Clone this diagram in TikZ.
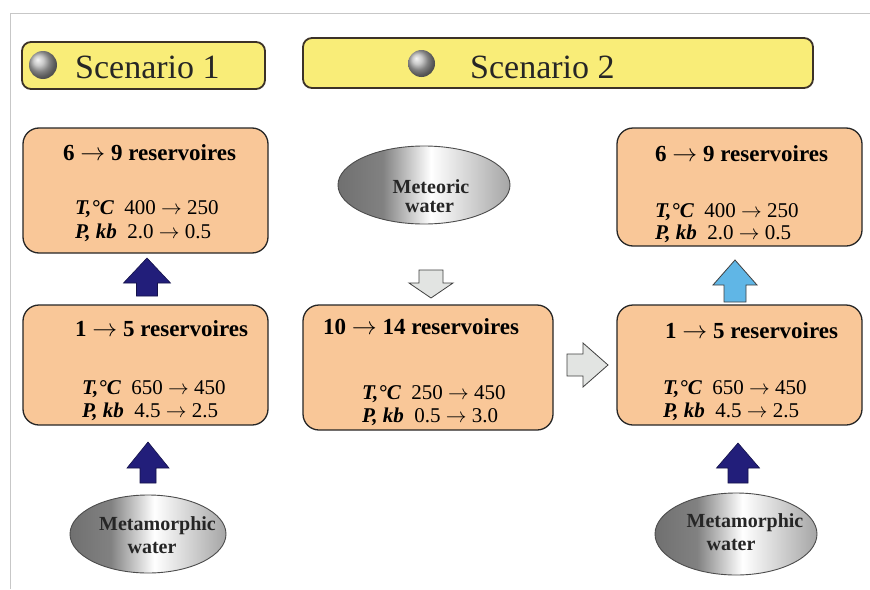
\documentclass[tikz,border=0pt]{standalone}
\usepackage{fontspec}
\setmainfont{Liberation Serif}
\usetikzlibrary{shapes.geometric}
\definecolor{peach}{RGB}{249,199,152}
\definecolor{banner}{RGB}{249,237,120}
\definecolor{bannerline}{RGB}{60,50,40}
\definecolor{navy}{RGB}{34,30,122}
\definecolor{skyb}{RGB}{96,182,230}
\definecolor{arrgray}{RGB}{226,228,226}
\definecolor{metdark}{RGB}{112,112,112}
\definecolor{metright}{RGB}{165,165,165}
\pgfdeclarehorizontalshading{metal}{100bp}{color(0bp)=(metdark); color(25bp)=(metdark); color(38bp)=(metdark!88!white); color(52bp)=(white); color(75bp)=(metright); color(100bp)=(metright)}
\tikzset{
  resbox/.style={draw=black!85, line width=1.3pt, fill=peach, rounded corners=16pt, inner sep=0pt},
  bannerbox/.style={draw=bannerline, line width=1.8pt, fill=banner, rounded corners=9pt},
  sphere/.style={circle, inner sep=0pt, shading=ball, ball color=black!28},
  water/.style={ellipse, draw=black!70, line width=0.9pt, shading=metal, inner sep=0pt},
  ttl/.style={anchor=base west, inner sep=0pt, font=\fontsize{23}{27}\selectfont\bfseries},
  tp/.style={anchor=base west, inner sep=0pt, font=\fontsize{21}{25}\selectfont},
  wtxt/.style={anchor=base, inner sep=0pt, font=\fontsize{20}{24}\selectfont\bfseries, text=black!85},
  scen/.style={anchor=base west, inner sep=0pt, font=\fontsize{34}{40}\selectfont, text=black!85},
  navyarrow/.style={fill=navy, draw=navy!60!black, line width=0.6pt},
  bluearrow/.style={fill=skyb, draw=black!75, line width=0.8pt},
  grayarrow/.style={fill=arrgray, draw=black!75, line width=0.8pt},
}
\newcommand{\Tl}{\textbf{\textit{T,°C}}\ \ }
\newcommand{\Pl}{\textbf{\textit{P, kb}}\ \ }
\newcommand{\ra}{\ensuremath{\rightarrow}}
\begin{document}
\begin{tikzpicture}[x=1pt, y=-1pt]
\useasboundingbox (0,0) rectangle (870,589);
\fill[white] (0,0) rectangle (870,589);
% frame lines
\draw[black!22, line width=1pt] (10,589) -- (10,13) -- (870,13);

% banners
\draw[bannerbox] (22,42) rectangle (265,89);
\node[sphere, minimum size=28pt] (s1) at (43,65) {};
\node[scen] (sc1) at (75,78) {Scenario 1};
\draw[bannerbox] (303,38) rectangle (813,88);
\node[sphere, minimum size=27pt] (s2) at (421.5,63.5) {};
\node[scen] (sc2) at (470,78) {Scenario 2};

% boxes
\node[resbox, minimum width=245pt, minimum height=125pt] (lt) at (145.5,190.5) {};
\node[resbox, minimum width=245pt, minimum height=120pt] (lb) at (145.5,365) {};
\node[resbox, minimum width=250pt, minimum height=125pt] (mb) at (428,367.5) {};
\node[resbox, minimum width=245pt, minimum height=118pt] (rt) at (739.5,187) {};
\node[resbox, minimum width=245pt, minimum height=120pt] (rb) at (739.5,365) {};

% box texts
\node[ttl] (lt1) at (63,160) {6 \ra{} 9 reservoires};
\node[tp] (lt2) at (75,214) {\Tl400 \ra{} 250};
\node[tp] (lt3) at (75,238) {\Pl2.0 \ra{} 0.5};

\node[ttl] (lb1) at (75,336) {1 \ra{} 5 reservoires};
\node[tp] (lb2) at (82,394) {\Tl650 \ra{} 450};
\node[tp] (lb3) at (82,417) {\Pl4.5 \ra{} 2.5};

\node[ttl] (mb1) at (323,334) {10 \ra{} 14 reservoires};
\node[tp] (mb2) at (362,399) {\Tl250 \ra{} 450};
\node[tp] (mb3) at (362,422) {\Pl0.5 \ra{} 3.0};

\node[ttl] (rt1) at (655,161) {6 \ra{} 9 reservoires};
\node[tp] (rt2) at (655,217) {\Tl400 \ra{} 250};
\node[tp] (rt3) at (655,239) {\Pl2.0 \ra{} 0.5};

\node[ttl] (rb1) at (665,338) {1 \ra{} 5 reservoires};
\node[tp] (rb2) at (663,394) {\Tl650 \ra{} 450};
\node[tp] (rb3) at (663,417) {\Pl4.5 \ra{} 2.5};

% water ellipses
\node[water, minimum width=172pt, minimum height=78pt] (met) at (424,185) {};
\node[wtxt] at (431,193) {Meteoric};
\node[wtxt] at (429.5,212) {water};

\node[water, minimum width=156pt, minimum height=78pt] (mml) at (148,534) {};
\node[wtxt] at (157.5,530) {Metamorphic};
\node[wtxt] at (152,553) {water};

\node[water, minimum width=162pt, minimum height=82pt] (mmr) at (736,534) {};
\node[wtxt] at (745,527) {Metamorphic};
\node[wtxt] at (731,550) {water};

% block arrows
% left: lb -> lt
\draw[navyarrow] (136.5,296) -- (136.5,283) -- (123.5,283) -- (147,258) -- (170.5,283) -- (157.5,283) -- (157.5,296) -- cycle;
% left: mml -> lb
\draw[navyarrow] (140,483) -- (140,468) -- (127,468) -- (148,442) -- (169,468) -- (156,468) -- (156,483) -- cycle;
% right: rb -> rt
\draw[bluearrow] (724,302) -- (724,285) -- (713,285) -- (735,260) -- (757,285) -- (746,285) -- (746,302) -- cycle;
% right: mmr -> rb
\draw[navyarrow] (728,483) -- (728,468) -- (716.5,468) -- (738,443) -- (759.5,468) -- (748,468) -- (748,483) -- cycle;
% met -> mb
\draw[grayarrow] (419,270) -- (443,270) -- (443,283) -- (453,283) -- (431,298) -- (409,283) -- (419,283) -- cycle;
% mb -> rb
\draw[grayarrow] (567,354) -- (583,354) -- (583,343) -- (608,365) -- (583,387) -- (583,376) -- (567,376) -- cycle;
\end{tikzpicture}
\end{document}
